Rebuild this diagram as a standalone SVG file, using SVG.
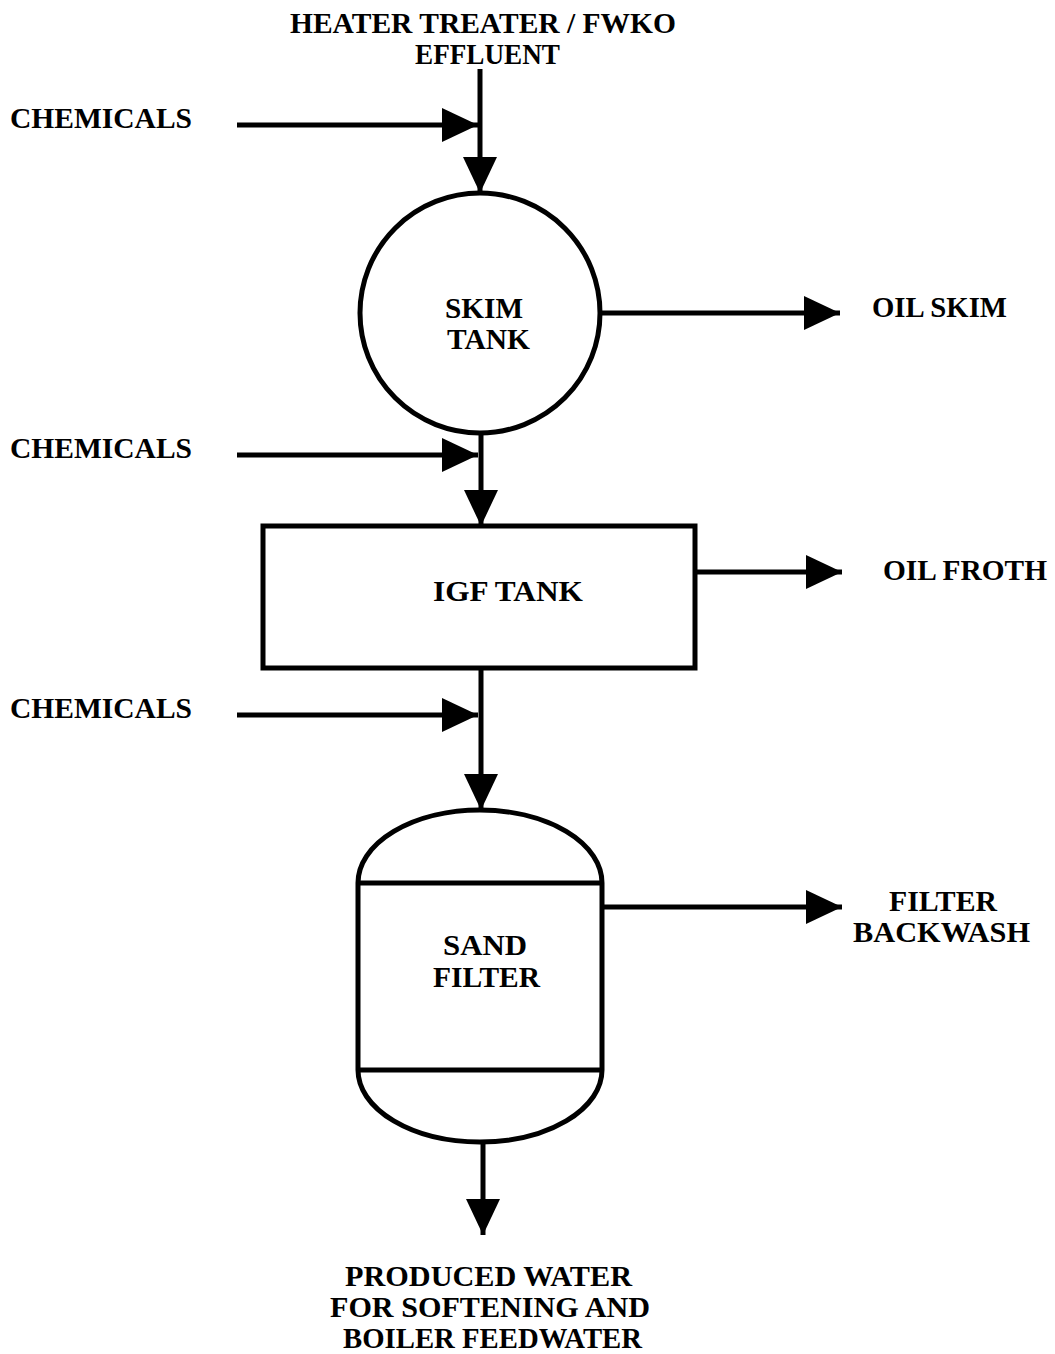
<svg xmlns="http://www.w3.org/2000/svg" width="1055" height="1354" viewBox="0 0 1055 1354">
<style>
  text { font-family: "Liberation Serif", "Times New Roman", serif; font-weight: bold; font-size: 30px; fill: #000; }
  .shape { fill: none; stroke: #000; stroke-width: 5; }
  .flow { fill: none; stroke: #000; stroke-width: 5; marker-end: url(#arrow); }
</style>
<defs>
  <marker id="arrow" markerUnits="userSpaceOnUse" markerWidth="36" markerHeight="34" viewBox="0 0 36 34" refX="36" refY="17" orient="auto">
    <path d="M0,0 L36,17 L0,34 Z" fill="#000"/>
  </marker>
</defs>
<rect width="1055" height="1354" fill="#fff"/>

<g id="connectors">
  <line class="flow" x1="480" y1="69" x2="480" y2="193"/>
  <line class="flow" x1="237" y1="125" x2="478" y2="125"/>
  <line class="flow" x1="600" y1="313" x2="840" y2="313"/>
  <line class="flow" x1="481" y1="433" x2="481" y2="526"/>
  <line class="flow" x1="237" y1="455" x2="478" y2="455"/>
  <line class="flow" x1="693" y1="572" x2="842" y2="572"/>
  <line class="flow" x1="481" y1="668" x2="481" y2="810"/>
  <line class="flow" x1="237" y1="715" x2="478" y2="715"/>
  <line class="flow" x1="602" y1="907" x2="842" y2="907"/>
  <line class="flow" x1="483" y1="1142" x2="483" y2="1235"/>
</g>

<g id="source-effluent">
  <text x="290" y="33" textLength="386" lengthAdjust="spacingAndGlyphs">HEATER TREATER / FWKO</text>
  <text x="415" y="64" textLength="145" lengthAdjust="spacingAndGlyphs">EFFLUENT</text>
</g>

<g id="chemicals-1">
  <text x="10" y="128" textLength="182" lengthAdjust="spacingAndGlyphs">CHEMICALS</text>
</g>
<g id="chemicals-2">
  <text x="10" y="458" textLength="182" lengthAdjust="spacingAndGlyphs">CHEMICALS</text>
</g>
<g id="chemicals-3">
  <text x="10" y="718" textLength="182" lengthAdjust="spacingAndGlyphs">CHEMICALS</text>
</g>

<g id="skim-tank">
  <circle class="shape" cx="480" cy="313" r="120"/>
  <text x="445" y="318" textLength="78" lengthAdjust="spacingAndGlyphs">SKIM</text>
  <text x="447" y="349" textLength="83" lengthAdjust="spacingAndGlyphs">TANK</text>
</g>

<g id="oil-skim">
  <text x="872" y="317" textLength="135" lengthAdjust="spacingAndGlyphs">OIL SKIM</text>
</g>

<g id="igf-tank">
  <rect class="shape" x="263" y="526" width="432" height="142"/>
  <text x="433" y="601" textLength="150" lengthAdjust="spacingAndGlyphs">IGF TANK</text>
</g>

<g id="oil-froth">
  <text x="883" y="580" textLength="164" lengthAdjust="spacingAndGlyphs">OIL FROTH</text>
</g>

<g id="sand-filter">
  <path class="shape" d="M358,883 A122,73 0 0 1 602,883 L602,1070 A122,72 0 0 1 358,1070 Z"/>
  <line class="shape" x1="358" y1="883" x2="602" y2="883"/>
  <line class="shape" x1="358" y1="1070" x2="602" y2="1070"/>
  <text x="443" y="955" textLength="84" lengthAdjust="spacingAndGlyphs">SAND</text>
  <text x="433" y="987" textLength="107" lengthAdjust="spacingAndGlyphs">FILTER</text>
</g>

<g id="filter-backwash">
  <text x="889" y="911" textLength="108" lengthAdjust="spacingAndGlyphs">FILTER</text>
  <text x="853" y="942" textLength="177" lengthAdjust="spacingAndGlyphs">BACKWASH</text>
</g>

<g id="produced-water">
  <text x="345" y="1286" textLength="287" lengthAdjust="spacingAndGlyphs">PRODUCED WATER</text>
  <text x="330" y="1317" textLength="320" lengthAdjust="spacingAndGlyphs">FOR SOFTENING AND</text>
  <text x="343" y="1348" textLength="299" lengthAdjust="spacingAndGlyphs">BOILER FEEDWATER</text>
</g>
</svg>
